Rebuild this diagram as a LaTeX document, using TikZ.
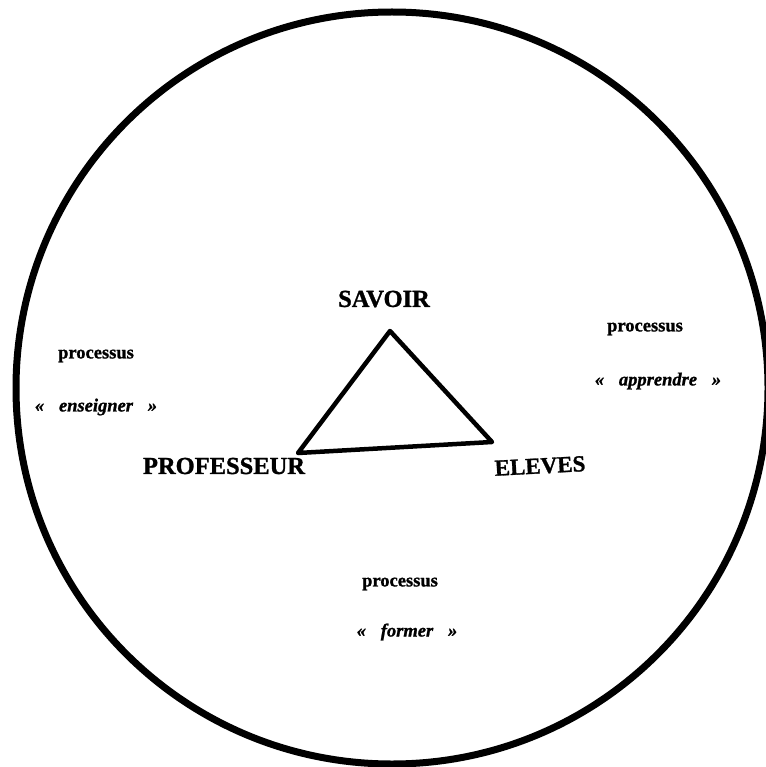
\documentclass[tikz,border=0pt]{standalone}
\usepackage{fontspec}
\setmainfont{Liberation Serif}[BoldFeatures={FakeBold=1.2},BoldItalicFeatures={FakeBold=1.2}]
\begin{document}
\begin{tikzpicture}[x=1pt,y=-1pt,
  big/.style={font=\fontsize{24.5}{26}\selectfont\bfseries, inner sep=0pt},
  small/.style={font=\fontsize{18.5}{20}\selectfont\bfseries, inner sep=0pt},
  quote/.style={font=\fontsize{18.5}{20}\selectfont\bfseries\itshape, inner sep=0pt}]
\useasboundingbox (0,0) rectangle (765,767);
\node[draw, circle, line width=7pt, minimum size=752pt, inner sep=0pt] (c) at (392,388) {};
\coordinate (s) at (390,331);
\coordinate (p) at (298,453);
\coordinate (e) at (492,442);
\draw[line width=4.5pt, line join=round] (s) -- (e) -- (p) -- cycle;
\node[big] (sav) at (384,299) {SAVOIR};
\node[big] (prof) at (224,466) {PROFESSEUR};
\node[big, rotate=3, font=\fontsize{23}{24}\selectfont\bfseries] (el) at (540,466) {ELEVES};
\node[small] (p1) at (96,356) {processus};
\node[quote] (q1) at (96,407) {«\hspace{0.8em}enseigner\hspace{0.8em}»};
\node[small] (p2) at (645,329) {processus};
\node[quote] (q2) at (658,381) {«\hspace{0.8em}apprendre\hspace{0.8em}»};
\node[small] (p3) at (400,584) {processus};
\node[quote] (q3) at (407,632) {«\hspace{0.8em}former\hspace{0.8em}»};
\end{tikzpicture}
\end{document}
